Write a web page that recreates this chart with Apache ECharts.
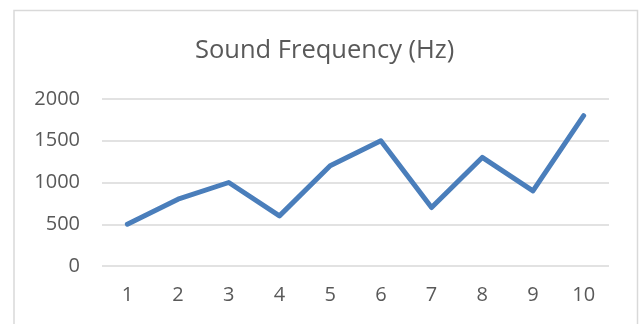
<!DOCTYPE html>
<html>
<head>
<meta charset="utf-8">
<script src="https://cdn.jsdelivr.net/npm/echarts@6/dist/echarts.min.js"></script>
<style>
html,body{margin:0;padding:0;background:#fff;}
#c{width:640px;height:324px;}
</style>
</head>
<body>
<div id="c"></div>
<script>
var titleText = 'Sound Frequency (Hz)';
var categories = ['1','2','3','4','5','6','7','8','9','10'];
var frequency = [500, 800, 1000, 600, 1200, 1500, 700, 1300, 900, 1800];
var yTicks = [0, 500, 1000, 1500, 2000];

var chart = echarts.init(document.getElementById('c'), null, {renderer: 'canvas'});
var font = '"Open Sans", "Noto Sans", sans-serif';
chart.setOption({
  animation: false,
  backgroundColor: '#ffffff',
  graphic: [{
    type: 'rect',
    shape: {x: 14, y: 10.5, width: 623.5, height: 330},
    style: {fill: 'none', stroke: '#d9d9d9', lineWidth: 1.5},
    silent: true
  }],
  title: {
    text: titleText,
    left: 195,
    top: 38,
    padding: 0,
    textStyle: {fontFamily: font, fontSize: 25.5, fontWeight: 'normal', color: '#595959'}
  },
  grid: {left: 102, right: 31, top: 99, bottom: 58, containLabel: false},
  xAxis: {
    type: 'category',
    data: categories,
    boundaryGap: true,
    axisLine: {show: false},
    axisTick: {show: false},
    axisLabel: {fontFamily: font, fontSize: 20, color: '#595959', margin: 19}
  },
  yAxis: {
    type: 'value',
    min: yTicks[0],
    max: yTicks[yTicks.length - 1],
    interval: yTicks[1] - yTicks[0],
    axisLine: {show: false},
    axisTick: {show: false},
    splitLine: {lineStyle: {color: '#d9d9d9', width: 1.5}},
    axisLabel: {fontFamily: font, fontSize: 20, color: '#595959', margin: 22,
      formatter: function (v) { return String(v); }}
  },
  series: [{
    type: 'line',
    data: frequency,
    showSymbol: false,
    symbol: 'none',
    lineStyle: {color: '#4a7ebb', width: 5, cap: 'round', join: 'round'}
  }]
});
</script>
</body>
</html>
